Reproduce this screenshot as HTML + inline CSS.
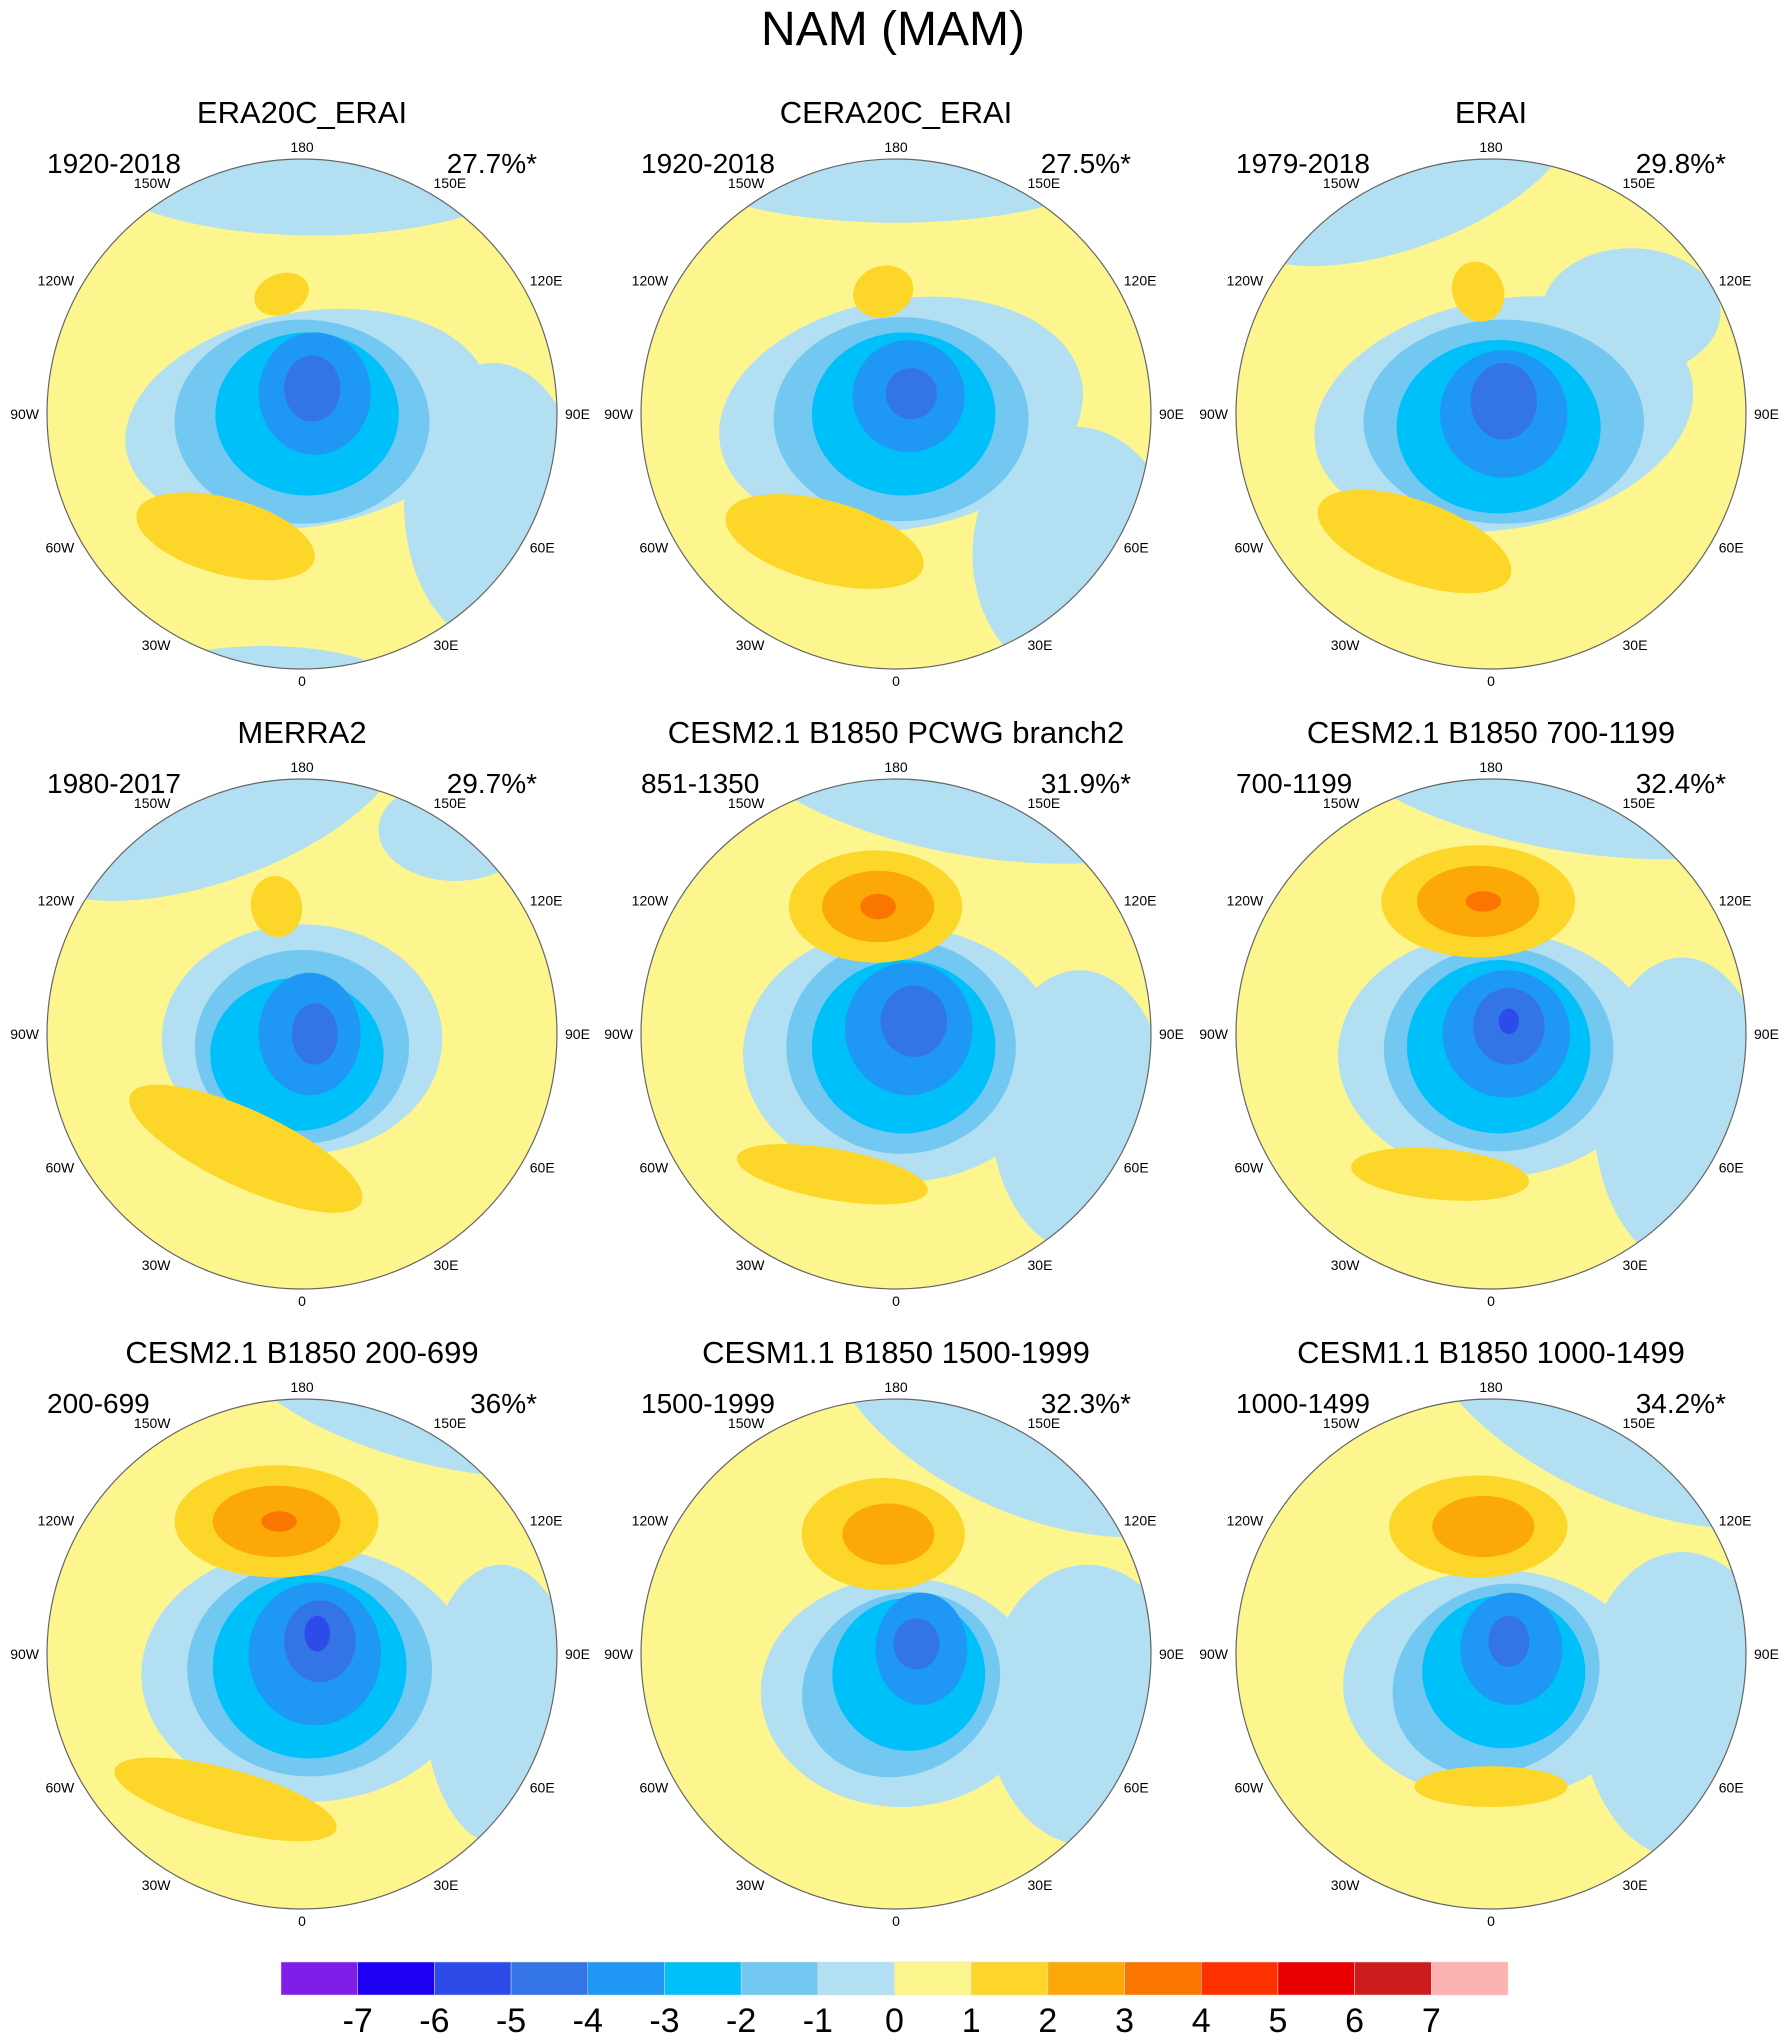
<!DOCTYPE html>
<html><head><meta charset="utf-8"><style>
html,body{margin:0;padding:0;background:#fff;}
svg{display:block;font-family:"Liberation Sans",sans-serif;}
</style></head><body>
<svg id="fig" width="1786" height="2042" viewBox="0 0 1786 2042" xmlns="http://www.w3.org/2000/svg">
<text x="893" y="45" font-size="48" text-anchor="middle">NAM (MAM)</text>
<g id="panels"></g>
<g id="colorbar"></g>
</svg>
<script>
const levels = [-7,-6,-5,-4,-3,-2,-1,0,1,2,3,4,5,6,7];
const levelColors = ["#7f1ee8","#1e00f5","#2d4be8","#3374e6","#1e97f5","#00c0fa","#73c8f2","#b2dff2","#fdf68f","#fdd62a","#fca806","#fb7600","#fd3000","#e80000","#cd1c1c","#fdb2b2"];
const panelTitles = ["ERA20C_ERAI","CERA20C_ERAI","ERAI","MERRA2","CESM2.1 B1850 PCWG branch2","CESM2.1 B1850 700-1199","CESM2.1 B1850 200-699","CESM1.1 B1850 1500-1999","CESM1.1 B1850 1000-1499"];
const panelYears = ["1920-2018","1920-2018","1979-2018","1980-2017","851-1350","700-1199","200-699","1500-1999","1000-1499"];
const panelPcts = ["27.7%*","27.5%*","29.8%*","29.7%*","31.9%*","32.4%*","36%*","32.3%*","34.2%*"];
const lonLabels = ["0","30E","60E","90E","120E","150E","180","150W","120W","90W","60W","30W"];
// blobs: [value, dx, dy, rx, ry, rot] in units of radius
const panelBlobs = [
 [[-1,0.05,-1.05,0.95,0.35,0],[-1,0.75,0.35,0.35,0.55,0],[-1,-0.15,1.05,0.5,0.14,0],[-1,0.02,0.02,0.72,0.42,-10],[-2,0.0,0.03,0.5,0.4,0],[-3,0.02,0.0,0.36,0.32,0],[-4,0.05,-0.08,0.22,0.24,0],[-5,0.04,-0.1,0.11,0.13,0],[1,-0.3,0.48,0.36,0.15,15],[1,-0.08,-0.47,0.11,0.08,-20]],
 [[-1,0.0,-1.05,0.95,0.3,0],[-1,0.7,0.55,0.4,0.5,0],[-1,0.02,0.0,0.72,0.45,-10],[-2,0.02,0.02,0.5,0.4,0],[-3,0.03,0.0,0.36,0.32,0],[-4,0.05,-0.07,0.22,0.22,0],[-5,0.06,-0.08,0.1,0.1,0],[1,-0.28,0.5,0.4,0.16,15],[1,-0.05,-0.48,0.12,0.1,-20]],
 [[-1,-0.35,-0.95,0.7,0.3,-20],[-1,0.55,-0.4,0.35,0.25,0],[-1,0.05,0.0,0.75,0.45,-10],[-2,0.05,0.03,0.55,0.4,0],[-3,0.03,0.05,0.4,0.34,0],[-4,0.05,0.0,0.25,0.25,0],[-5,0.05,-0.05,0.13,0.15,0],[1,-0.3,0.5,0.4,0.16,20],[1,-0.05,-0.48,0.1,0.12,-20]],
 [[-1,-0.35,-0.95,0.8,0.35,-20],[-1,0.6,-0.8,0.3,0.2,0],[-1,0.0,0.02,0.55,0.45,0],[-2,0.0,0.05,0.42,0.38,0],[-3,-0.02,0.08,0.34,0.3,0],[-4,0.03,0.0,0.2,0.24,0],[-5,0.05,0.0,0.09,0.12,0],[1,-0.22,0.45,0.5,0.15,25],[1,-0.1,-0.5,0.1,0.12,-10]],
 [[-1,0.3,-1.05,0.95,0.35,10],[-1,0.72,0.3,0.35,0.55,0],[-1,0.02,0.08,0.62,0.5,0],[-2,0.02,0.05,0.45,0.42,0],[-3,0.03,0.05,0.36,0.34,0],[-4,0.05,-0.02,0.25,0.26,0],[-5,0.07,-0.05,0.13,0.14,0],[1,-0.08,-0.5,0.34,0.22,0],[2,-0.07,-0.5,0.22,0.14,0],[3,-0.07,-0.5,0.07,0.05,0],[1,-0.25,0.55,0.38,0.1,10]],
 [[-1,0.3,-1.05,0.95,0.33,10],[-1,0.75,0.3,0.35,0.6,0],[-1,0.02,0.08,0.62,0.48,0],[-2,0.03,0.06,0.45,0.4,0],[-3,0.03,0.05,0.36,0.34,0],[-4,0.06,0.0,0.25,0.25,0],[-5,0.07,-0.03,0.14,0.15,0],[-6,0.07,-0.05,0.04,0.05,0],[1,-0.05,-0.52,0.38,0.22,0],[2,-0.05,-0.52,0.24,0.14,0],[3,-0.03,-0.52,0.07,0.04,0],[1,-0.2,0.55,0.35,0.1,5]],
 [[-1,0.5,-1.05,0.8,0.3,15],[-1,0.78,0.2,0.3,0.55,0],[-1,0.02,0.08,0.65,0.5,0],[-2,0.03,0.06,0.48,0.42,0],[-3,0.03,0.05,0.38,0.36,0],[-4,0.05,0.0,0.26,0.28,0],[-5,0.07,-0.05,0.14,0.16,0],[-6,0.06,-0.08,0.05,0.07,0],[1,-0.1,-0.52,0.4,0.22,0],[2,-0.1,-0.52,0.25,0.14,0],[3,-0.09,-0.52,0.07,0.04,0],[1,-0.3,0.57,0.45,0.12,15]],
 [[-1,0.55,-1.05,0.9,0.5,25],[-1,0.75,0.2,0.4,0.55,0],[-1,0.02,0.15,0.55,0.45,0],[-2,0.02,0.12,0.4,0.35,-30],[-3,0.05,0.08,0.3,0.3,0],[-4,0.1,-0.02,0.18,0.22,0],[-5,0.08,-0.04,0.09,0.1,0],[1,-0.05,-0.47,0.32,0.22,0],[2,-0.03,-0.47,0.18,0.12,0]],
 [[-1,0.55,-1.05,0.9,0.45,25],[-1,0.75,0.2,0.4,0.6,0],[-1,0.02,0.12,0.6,0.45,0],[-2,0.02,0.1,0.42,0.36,-30],[-3,0.05,0.07,0.32,0.3,0],[-4,0.08,-0.02,0.2,0.22,0],[-5,0.07,-0.05,0.08,0.1,0],[1,-0.05,-0.5,0.35,0.2,0],[2,-0.03,-0.5,0.2,0.12,0],[1,0.0,0.52,0.3,0.08,0]]
];
const NS = "http://www.w3.org/2000/svg";
const colX = [302, 896, 1491], rowY = [414, 1034, 1654], R = 255;
function colorFor(v){
  return levelColors[Math.max(0, Math.min(15, 8 + v))];
}
function mk(tag, attrs){ const e = document.createElementNS(NS, tag); for (const k in attrs) e.setAttribute(k, attrs[k]); return e; }
const panelsG = document.getElementById("panels");
panelTitles.forEach((title, i) => {
  const cx = colX[i % 3], cy = rowY[Math.floor(i / 3)];
  const g = mk("g", {});
  
  
  const t = mk("text", {x: cx, y: cy - 291, "font-size": 31, "text-anchor": "middle"});
  t.textContent = title;
  
  
  g.appendChild(t);
  const yr = mk("text", {x: cx - 255, y: cy - 241, "font-size": 28, "text-anchor": "start"});
  yr.textContent = panelYears[i];
  
  
  g.appendChild(yr);
  const pc = mk("text", {x: cx + 235, y: cy - 241, "font-size": 28, "text-anchor": "end"});
  pc.textContent = panelPcts[i];
  
  
  g.appendChild(pc);
  const clip = mk("clipPath", {id: "clip" + i});
  clip.appendChild(mk("circle", {cx: cx, cy: cy, r: R}));
  g.appendChild(clip);
  const field = mk("g", {"clip-path": "url(#clip" + i + ")"});
  
  
  field.appendChild(mk("rect", {x: cx - R, y: cy - R, width: 2 * R, height: 2 * R, fill: levelColors[8]}));
  panelBlobs[i].forEach(b => {
    const [v, dx, dy, rx, ry, rot] = b;
    const ex = cx + dx * R, ey = cy + dy * R;
    const e = mk("ellipse", {cx: ex, cy: ey, rx: rx * R, ry: ry * R, fill: colorFor(v), transform: "rotate(" + rot + " " + ex + " " + ey + ")"});
    
    
    field.appendChild(e);
  });
  g.appendChild(field);
  const ring = mk("circle", {cx: cx, cy: cy, r: R, fill: "none", stroke: "#666", "stroke-width": 1.2});
  
  
  g.appendChild(ring);
  lonLabels.forEach((lab, k) => {
    const a = k * 30 * Math.PI / 180;
    const s = Math.sin(a), c = Math.cos(a);
    const anchor = Math.abs(s) < 0.1 ? "middle" : (s > 0 ? "start" : "end");
    const rr = Math.abs(s) < 0.1 ? R + 11 : R + 8;
    const lx = cx + rr * s, ly = cy + (R + 12) * c + 5;
    const lt = mk("text", {x: lx, y: ly, "font-size": 14, "text-anchor": anchor});
    lt.textContent = lab;
    
    
    g.appendChild(lt);
  });
  panelsG.appendChild(g);
});
// colorbar
const cb = document.getElementById("colorbar");
const cbX0 = 281, cbX1 = 1508, cbY = 1962, cbH = 33;
const bw = (cbX1 - cbX0) / levelColors.length;
levelColors.forEach((c, k) => {
  const r = mk("rect", {x: cbX0 + k * bw, y: cbY, width: bw, height: cbH, fill: c, stroke: "#ddd", "stroke-width": 0.5});
  
  
  cb.appendChild(r);
});
levels.forEach((v, k) => {
  const t = mk("text", {x: cbX0 + (k + 1) * bw, y: 2032, "font-size": 34, "text-anchor": "middle"});
  t.textContent = String(v);
  
  
  cb.appendChild(t);
});
</script>
</body></html>
